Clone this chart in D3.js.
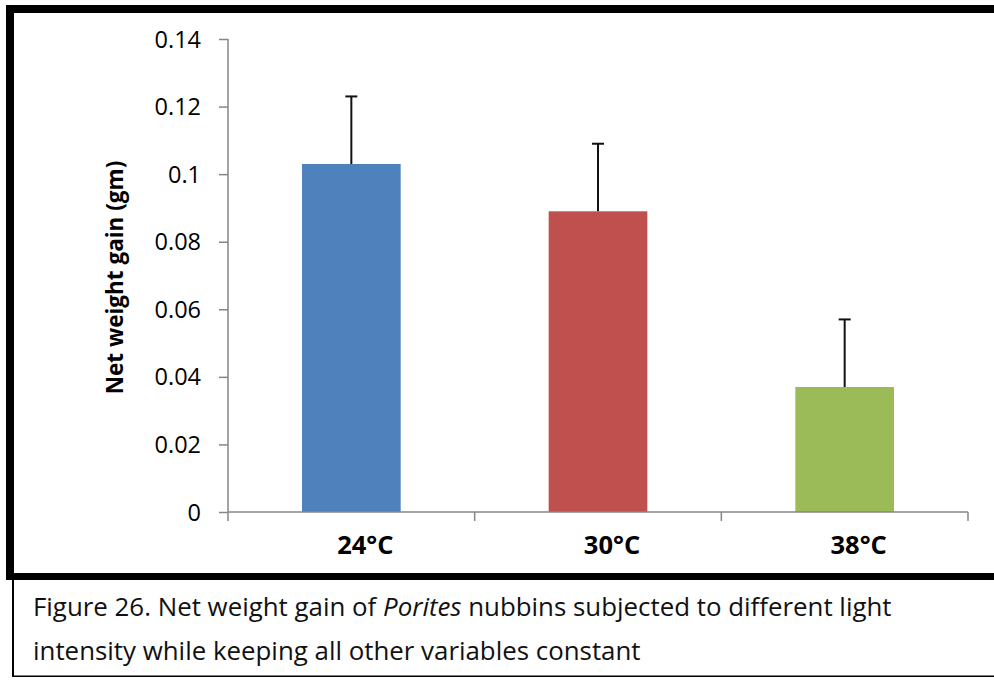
<!DOCTYPE html>
<html>
<head>
<meta charset="utf-8">
<script src="https://cdn.jsdelivr.net/npm/d3@7/dist/d3.min.js"></script>
<style>
  html, body { margin: 0; padding: 0; background: #fff; }
  svg { display: block; }
</style>
</head>
<body>
<svg id="fig" width="994" height="680"></svg>
<script>
// Temperature treatments and mean net weight gain (gm) with error
const categories = ["24°C", "30°C", "38°C"];
const means = [0.103, 0.089, 0.037];
const errors = [0.02, 0.02, 0.02];
const barColors = ["#4F81BD", "#C0504D", "#9BBB59"];
const yTicks = [0, 0.02, 0.04, 0.06, 0.08, 0.1, 0.12, 0.14];
const yTitle = "Net weight gain (gm)";

const svg = d3.select("#fig");
const FONT = "'Open Sans', 'Noto Sans', sans-serif";
const AXIS = "#868686";

const plot = { left: 228, right: 968, top: 39, bottom: 512 };

const x = d3.scaleBand()
  .domain(categories)
  .range([plot.left, plot.right])
  .paddingInner(0.6)
  .paddingOuter(0.3);

const y = d3.scaleLinear()
  .domain([0, 0.14])
  .range([plot.bottom, plot.top]);

// Frame: heavy rules round the chart, light rules round the caption
svg.append("rect").attr("x", 6).attr("y", 5).attr("width", 8).attr("height", 575).attr("fill", "#000");
svg.append("rect").attr("x", 6).attr("y", 5).attr("width", 988).attr("height", 8).attr("fill", "#000");
svg.append("rect").attr("x", 6).attr("y", 573).attr("width", 988).attr("height", 7).attr("fill", "#000");
svg.append("rect").attr("x", 12).attr("y", 580).attr("width", 2).attr("height", 97).attr("fill", "#000");
svg.append("rect").attr("x", 12).attr("y", 675.5).attr("width", 982).attr("height", 1.5).attr("fill", "#000");

// Bars
svg.append("g").selectAll("rect")
  .data(categories)
  .join("rect")
  .attr("x", d => x(d))
  .attr("width", x.bandwidth())
  .attr("y", (d, i) => y(means[i]))
  .attr("height", (d, i) => y(0) - y(means[i]))
  .attr("fill", (d, i) => barColors[i]);

// Upper error bars
const eb = svg.append("g").attr("stroke", "#111").attr("stroke-width", 2);
categories.forEach((c, i) => {
  const cx = x(c) + x.bandwidth() / 2;
  eb.append("line")
    .attr("x1", cx).attr("x2", cx)
    .attr("y1", y(means[i])).attr("y2", y(means[i] + errors[i]));
  eb.append("line")
    .attr("x1", cx - 6).attr("x2", cx + 6)
    .attr("y1", y(means[i] + errors[i])).attr("y2", y(means[i] + errors[i]));
});

// Y axis
const yAxis = svg.append("g")
  .attr("transform", `translate(${plot.left},0)`)
  .call(d3.axisLeft(y).tickValues(yTicks).tickSize(9).tickPadding(18)
    .tickFormat(d => d === 0 ? "0" : String(+d.toFixed(2))));
yAxis.select(".domain").attr("stroke", AXIS).attr("stroke-width", 1.5)
  .attr("d", `M0,${plot.top}V${plot.bottom}`);
yAxis.selectAll(".tick line").attr("stroke", AXIS).attr("stroke-width", 1.5);
yAxis.selectAll(".tick text")
  .attr("font-family", FONT).attr("font-size", 23.5).attr("fill", "#000")
  .attr("dy", "0.34em");

// X axis: ticks at category boundaries
const bounds = categories.map(c => x(c) - x.step() * x.paddingInner() / 2);
bounds[0] = plot.left;
bounds.push(plot.right);
const xg = svg.append("g");
xg.append("line")
  .attr("x1", plot.left).attr("x2", plot.right)
  .attr("y1", plot.bottom).attr("y2", plot.bottom)
  .attr("stroke", AXIS).attr("stroke-width", 1.5);
xg.selectAll("line.tk")
  .data(bounds)
  .join("line")
  .attr("class", "tk")
  .attr("x1", d => d).attr("x2", d => d)
  .attr("y1", plot.bottom).attr("y2", plot.bottom + 9)
  .attr("stroke", AXIS).attr("stroke-width", 1.5);
xg.selectAll("text")
  .data(categories)
  .join("text")
  .attr("x", d => x(d) + x.bandwidth() / 2 + 14)
  .attr("y", 554)
  .attr("text-anchor", "middle")
  .attr("font-family", FONT).attr("font-size", 25.5).attr("font-weight", "bold")
  .attr("fill", "#000")
  .text(d => d);

// Y axis title
svg.append("text")
  .attr("transform", `translate(123,${(plot.top + plot.bottom) / 2 + 2}) rotate(-90)`)
  .attr("text-anchor", "middle")
  .attr("font-family", FONT).attr("font-size", 22.5).attr("font-weight", "bold")
  .attr("fill", "#000")
  .text(yTitle);

// Caption, sized so each line spans its measure
const cap = svg.append("g").attr("font-family", FONT).attr("fill", "#111");
const l1 = cap.append("text").attr("x", 33).attr("y", 616);
l1.append("tspan").text("Figure 26. Net weight gain of ");
l1.append("tspan").attr("font-style", "italic").text("Porites");
l1.append("tspan").text(" nubbins subjected to different light");
const l2 = cap.append("text").attr("x", 33).attr("y", 660)
  .text("intensity while keeping all other variables constant");
[l1, l2].forEach(t => t.attr("font-size", 24));
const w = l1.node().getComputedTextLength();
const fs = 24 * 859 / w;
[l1, l2].forEach(t => t.attr("font-size", fs));
</script>
</body>
</html>
